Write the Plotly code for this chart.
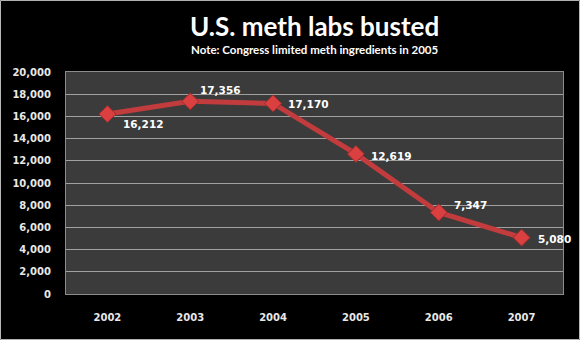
import plotly.graph_objects as go

years = ["2002", "2003", "2004", "2005", "2006", "2007"]
labs = [16212, 17356, 17170, 12619, 7347, 5080]
label_text = ["16,212", "17,356", "17,170", "12,619", "7,347", "5,080"]
y_ticks = [0, 2000, 4000, 6000, 8000, 10000, 12000, 14000, 16000, 18000, 20000]
y_tick_text = ["0", "2,000", "4,000", "6,000", "8,000", "10,000", "12,000", "14,000", "16,000", "18,000", "20,000"]

# label offsets (style)
xshifts = [14, 8, 13, 13, 13, 14]
yshifts = [-10, 11, -1, -2, 7, -1]

fig = go.Figure()
fig.add_trace(go.Scatter(
    x=years, y=labs, mode="lines+markers",
    line=dict(color="#c23c3e", width=5),
    marker=dict(symbol="diamond", size=13, color="#d9403f",
                line=dict(color="#9e2a2c", width=1)),
    hoverinfo="skip", showlegend=False,
))

for i, (v, t) in enumerate(zip(labs, label_text)):
    fig.add_annotation(x=i, y=v, text=t, showarrow=False, xanchor="left",
                       yanchor="middle", xshift=xshifts[i], yshift=yshifts[i],
                       font=dict(family="DejaVu Sans", size=10.5, color="#ffffff", weight="bold"))

fig.add_annotation(xref="paper", yref="paper", x=0.5, y=1 + 46 / 222, xanchor="center", yanchor="middle",
                   text="<b>U.S. meth labs busted</b>", showarrow=False,
                   font=dict(family="Lato", size=26, color="#ffffff", weight="bold"))
fig.add_annotation(xref="paper", yref="paper", x=0.5, y=1 + 22 / 222, xanchor="center", yanchor="middle",
                   text="<b>Note: Congress limited meth ingredients in 2005</b>", showarrow=False,
                   font=dict(family="Lato", size=11.5, color="#ffffff", weight="bold"))

fig.update_layout(
    width=580, height=340,
    paper_bgcolor="#000000", plot_bgcolor="#3b3b3b",
    margin=dict(l=66, r=17, t=72, b=46),
    xaxis=dict(type="category", range=[-0.5, 5.5], showgrid=False, zeroline=False,
               showline=True, linecolor="#8c8c8c", linewidth=1, mirror=True,
               tickfont=dict(family="DejaVu Sans", size=10, color="#e8e8e8", weight="bold"),
               ticklabelstandoff=14, ticks=""),
    yaxis=dict(range=[0, 20000], tickvals=y_ticks, ticktext=y_tick_text,
               showgrid=True, gridcolor="#a0a0a0", gridwidth=1, zeroline=False,
               showline=True, linecolor="#8c8c8c", linewidth=1, mirror=True,
               tickfont=dict(family="DejaVu Sans", size=10, color="#e8e8e8", weight="bold"),
               ticklabelstandoff=12, ticks=""),
)

fig.add_shape(type="rect", xref="paper", yref="paper", x0=-66/497 + 0.001, x1=1 + 17/497 - 0.001,
              y0=-46/222 + 0.002, y1=1 + 72/222 - 0.002, line=dict(color="#bbbbbb", width=1))

fig.write_html("out.html")
